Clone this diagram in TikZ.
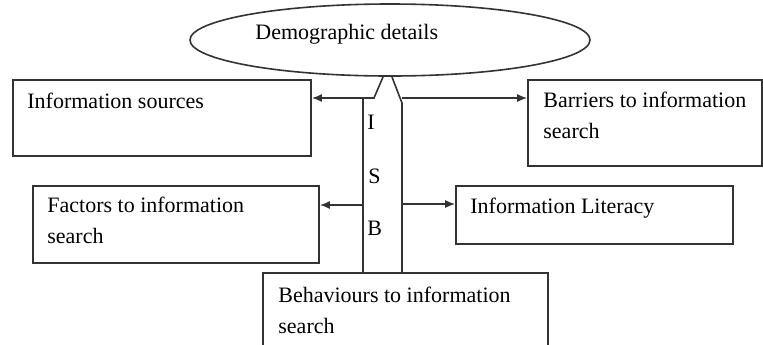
\documentclass[tikz,border=0pt]{standalone}
\usepackage{fontspec}
\setmainfont{Liberation Serif}
\usepackage{tikz}
\usetikzlibrary{calc}
\usetikzlibrary{shapes.geometric, arrows.meta, fit}
\tikzstyle{boxnode} = [rectangle, 
inner sep=0pt, 
line width=0.8pt, 
draw=black!80]
\tikzstyle{boxtext} = [anchor=base west, 
align=left, 
inner sep=0pt, 
font=\fontsize{11}{15.5}\selectfont]
\tikzstyle{shaft} = [line width=0.8pt, draw=black!80]
\tikzstyle{arrow} = [line width=0.8pt, draw=black!80, ->, >={Latex[length=5pt,width=4pt]}]

\begin{document}
\begin{tikzpicture}[x=0.5pt, y=-0.5pt]
    \useasboundingbox (0,0) rectangle (763,344);

    \node (demo) [ellipse, shaft, minimum width=200pt, minimum height=36pt, inner sep=0pt] at (390,40) {};
    \node (demotext) [boxtext] at (255,39) {Demographic details};

    \node (src) [boxnode, fit={(13,80) (311,156)}] {};
    \node (bar) [boxnode, fit={(528,80) (762,166)}] {};
    \node (fac) [boxnode, fit={(33,186) (319,263)}] {};
    \node (lit) [boxnode, fit={(456,186) (733,244)}] {};
    \node (beh) [boxnode, fit={(263,273) (548,352)}] {};

    % two-line texts sit on the baseline of their last line
    \node (srctext) [boxtext] at (27,108) {Information sources};
    \node (bartext) [boxtext] at (543,138) {Barriers to information\\search};
    \node (factext) [boxtext] at (47,243) {Factors to information\\search};
    \node (littext) [boxtext] at (470,213) {Information Literacy};
    \node (behtext) [boxtext] at (278,333) {Behaviours to information\\search};

    % ISB shaft
    \coordinate (tipl) at (383,77);
    \coordinate (tipr) at (392,77);
    \coordinate (shl) at (374,98);
    \coordinate (cnl) at (363,98);
    \coordinate (shr) at (402,103);
    \draw [shaft] (tipl) -- (shl) -- (cnl) -- (cnl |- beh.north);
    \draw [shaft] (tipr) -- (shr) -- (shr |- beh.north);

    \node (li) [boxtext] at (367,129) {I};
    \node (ls) [boxtext] at (368,183) {S};
    \node (lb) [boxtext] at (367,235) {B};

    % arcs to the boxes
    \coordinate (jf) at (363,205);
    \coordinate (jl) at (402,204);
    \draw [arrow] (cnl) -- (cnl -| src.east);
    \draw [arrow] (shr |- cnl) -- (bar.west |- cnl);
    \draw [arrow] (jf) -- (jf -| fac.east);
    \draw [arrow] (jl) -- (jl -| lit.west);
\end{tikzpicture}
\end{document}
